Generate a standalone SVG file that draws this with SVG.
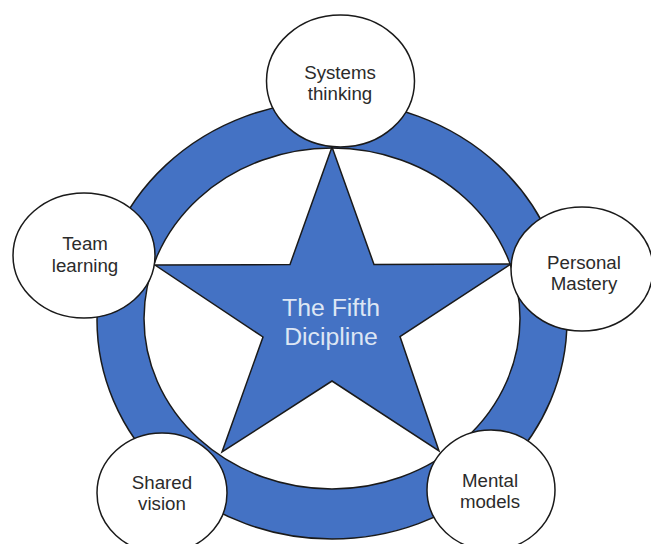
<svg xmlns="http://www.w3.org/2000/svg" width="651" height="544" viewBox="0 0 651 544">
  <style>
    .band { fill: #4472c4; stroke: #1a1a1a; stroke-width: 1.5; }
    .hole { fill: #ffffff; stroke: #1a1a1a; stroke-width: 1.5; }
    .star { fill: #4472c4; stroke: #1a1a1a; stroke-width: 1.5; stroke-linejoin: miter; }
    .node { fill: #ffffff; stroke: #1a1a1a; stroke-width: 1.5; }
    .label { font-family: "Liberation Sans", Arial, sans-serif; font-size: 18.7px; fill: #2b2b2b; text-anchor: middle; }
    .title { font-family: "Liberation Sans", Arial, sans-serif; font-size: 24.8px; fill: #dde6f4; text-anchor: middle; }
  </style>
  <rect width="651" height="544" fill="#ffffff"/>

  <!-- blue ring -->
  <g id="ring">
    <ellipse class="band" cx="332" cy="320" rx="235" ry="219"/>
    <ellipse class="hole" cx="332" cy="318.5" rx="188" ry="170.5"/>
  </g>

  <!-- central star -->
  <g id="star">
    <polygon class="star" points="332,147 374,264.5 511,264 400,336.5 439,451 332,381 222,452 263,337 155,265 290,264.5"/>
    <text class="title" x="331" y="316">The Fifth</text>
    <text class="title" x="331" y="345">Dicipline</text>
  </g>

  <!-- discipline nodes -->
  <g id="systems-thinking">
    <ellipse class="node" cx="340.5" cy="81" rx="74" ry="66"/>
    <text class="label" x="340" y="78.5">Systems</text>
    <text class="label" x="340" y="99.5">thinking</text>
  </g>
  <g id="team-learning">
    <ellipse class="node" cx="84" cy="255.5" rx="71" ry="62.5"/>
    <text class="label" x="85" y="249.5">Team</text>
    <text class="label" x="85" y="271.5">learning</text>
  </g>
  <g id="personal-mastery">
    <ellipse class="node" cx="582" cy="269" rx="71" ry="62"/>
    <text class="label" x="584" y="268.5">Personal</text>
    <text class="label" x="584" y="290">Mastery</text>
  </g>
  <g id="shared-vision">
    <ellipse class="node" cx="162" cy="493" rx="65" ry="60"/>
    <text class="label" x="162" y="488.5">Shared</text>
    <text class="label" x="162" y="509.5">vision</text>
  </g>
  <g id="mental-models">
    <ellipse class="node" cx="491" cy="490" rx="64" ry="60"/>
    <text class="label" x="490" y="486.5">Mental</text>
    <text class="label" x="490" y="508">models</text>
  </g>
</svg>
